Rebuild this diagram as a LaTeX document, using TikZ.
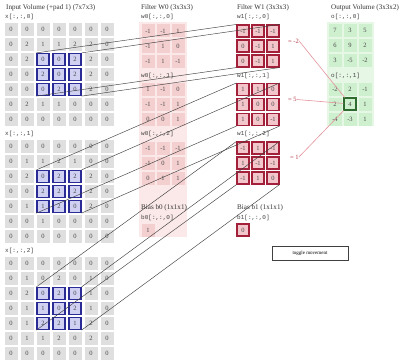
\documentclass[tikz,border=0pt]{standalone}
\usepackage{fontspec}
\setmainfont{Liberation Serif}
\setmonofont{Liberation Mono}
\definecolor{incell}{HTML}{DFDFDF}
\definecolor{winfill}{HTML}{D0D0F2}
\definecolor{winline}{HTML}{2B2B96}
\definecolor{wzcell}{HTML}{F4CFCF}
\definecolor{wzband}{HTML}{FBE8E8}
\definecolor{wocell}{HTML}{F3C6CB}
\definecolor{woline}{HTML}{A3203A}
\definecolor{outcell}{HTML}{CFF0CF}
\definecolor{outband}{HTML}{E6F7E6}
\definecolor{outline}{HTML}{2F6B2F}
\definecolor{eqcol}{HTML}{B23A48}
\definecolor{redline}{HTML}{E3939C}
\newcommand\mkinblock[2]{%
  \node[lbl] (xl#1) at (5,17+117*#1) {x[:,:,#1]};
  \foreach \i/\r in {#2} {
    \foreach \v [count=\jj from 0] in \r {
      \pgfmathtruncatemacro\w{(\i>1)*(\i<5)*(\jj>1)*(\jj<5)}
      \ifnum\w=1
        \node[wincellst] (in-#1-\i-\jj) at (11+16*\jj, 29.5+117*#1+15*\i) {\v};
      \else
        \node[incellst] (in-#1-\i-\jj) at (11+16*\jj, 29.5+117*#1+15*\i) {\v};
      \fi
    }
  }
}
\newcommand\mkwzblock[2]{%
  \node[lbl] (wzl#1) at (141,17+58.5*#1) {w0[:,:,#1]};
  \foreach \i/\r in {#2} {
    \foreach \v [count=\jj from 0] in \r {
      \node[wzcellst] (wz-#1-\i-\jj) at (148+15*\jj, 31+58.5*#1+15*\i) {\v};
    }
  }
}
\newcommand\mkwoblock[2]{%
  \node[lbl] (wol#1) at (237,17+58.5*#1) {w1[:,:,#1]};
  \foreach \i/\r in {#2} {
    \foreach \v [count=\jj from 0] in \r {
      \node[wocellst] (wo-#1-\i-\jj) at (243+15*\jj, 31+58.5*#1+15*\i) {\v};
    }
  }
}
\newcommand\mkoutblock[2]{%
  \node[lbl] (ol#1) at (331,17+58.5*#1) {o[:,:,#1]};
  \foreach \i/\r in {#2} {
    \foreach \v [count=\jj from 0] in \r {
      \pgfmathtruncatemacro\w{(#1==1)*(\i==1)*(\jj==1)}
      \ifnum\w=1
        \node[outhl] (oc-#1-\i-\jj) at (335+15*\jj, 30.5+58.5*#1+15*\i) {\v};
      \else
        \node[outcellst] (oc-#1-\i-\jj) at (335+15*\jj, 30.5+58.5*#1+15*\i) {\v};
      \fi
    }
  }
}
\begin{document}
\begin{tikzpicture}[x=1pt,y=-1pt,
  title/.style={anchor=west,inner sep=0,font=\fontsize{7.1}{8}\selectfont,text=black!80},
  lbl/.style={anchor=west,inner sep=0,font=\ttfamily\fontsize{6}{7}\selectfont,text=black!75},
  num/.style={inner sep=0,font=\fontsize{6.5}{7}\selectfont,text=black!72},
  incellst/.style={num,minimum size=13pt,fill=incell},
  wincellst/.style={num,minimum size=12pt,fill=winfill,draw=winline,line width=1.2pt},
  wzcellst/.style={num,minimum size=13pt,fill=wzcell},
  wocellst/.style={num,minimum size=12pt,fill=wocell,draw=woline,line width=1.1pt},
  outcellst/.style={num,minimum size=13pt,fill=outcell},
  outhl/.style={num,minimum size=12pt,fill=outcell,draw=outline,line width=1.1pt},
  conn/.style={black!75,line width=0.45pt},
  redconn/.style={redline,line width=0.6pt},
  eq/.style={anchor=west,inner sep=0,font=\fontsize{6.5}{7}\selectfont,text=eqcol},
]
\useasboundingbox (0,0) rectangle (406,361);
\fill[wzband] (139,22) rectangle (187,237);
\fill[outband] (327,22) rectangle (374,126);
% titles
\node[title] (tin) at (6,8) {Input Volume (+pad 1) (7x7x3)};
\node[title] (twz) at (141,8) {Filter W0 (3x3x3)};
\node[title] (two) at (237,8) {Filter W1 (3x3x3)};
\node[title] (tout) at (331,8) {Output Volume (3x3x2)};
% input volume
\mkinblock{0}{0/{0,0,0,0,0,0,0},1/{0,2,1,1,2,2,0},2/{0,2,0,0,2,2,0},3/{0,0,2,0,2,2,0},4/{0,0,0,2,0,2,0},5/{0,2,1,1,0,0,0},6/{0,0,0,0,0,0,0}}
\mkinblock{1}{0/{0,0,0,0,0,0,0},1/{0,1,1,2,1,0,0},2/{0,2,0,2,2,2,0},3/{0,0,2,2,2,2,0},4/{0,1,1,2,0,2,0},5/{0,0,1,0,0,0,0},6/{0,0,0,0,0,0,0}}
\mkinblock{2}{0/{0,0,0,0,0,0,0},1/{0,1,0,2,0,1,0},2/{0,2,0,2,0,1,0},3/{0,1,1,0,2,1,0},4/{0,1,2,2,1,2,0},5/{0,1,1,2,0,2,0},6/{0,0,0,0,0,0,0}}
% filter W0
\mkwzblock{0}{0/{-1,-1,1},1/{-1,1,0},2/{-1,1,-1}}
\mkwzblock{1}{0/{1,-1,0},1/{-1,-1,1},2/{0,0,1}}
\mkwzblock{2}{0/{-1,-1,-1},1/{-1,0,1},2/{0,1,1}}
\node[title] (bzt) at (141,208) {Bias b0 (1x1x1)};
\node[lbl] (bzl) at (141,218) {b0[:,:,0]};
\node[wzcellst] (bz) at (148,230) {1};
% filter W1
\mkwoblock{0}{0/{-1,-1,-1},1/{0,-1,1},2/{0,-1,1}}
\mkwoblock{1}{0/{1,1,0},1/{1,0,0},2/{1,0,-1}}
\mkwoblock{2}{0/{-1,1,-1},1/{1,-1,-1},2/{-1,1,0}}
\node[title] (bot) at (237,208) {Bias b1 (1x1x1)};
\node[lbl] (bol) at (237,218) {b1[:,:,0]};
\node[wocellst] (bo) at (243,230) {0};
% output
\mkoutblock{0}{0/{7,3,5},1/{6,9,2},2/{3,-5,-2}}
\mkoutblock{1}{0/{-2,2,-1},1/{2,4,1},2/{-4,-3,1}}
% partial results
\node[eq] (eq0) at (288,41) {= -2};
\node[eq] (eq1) at (288,99.5) {= 5};
\node[eq] (eq2) at (290,157) {= 1};
\draw[redconn] (eq0.east) -- (oc-1-1-1);
\draw[redconn] (eq1.east) -- (oc-1-1-1);
\draw[redconn] (eq2.east) -- (oc-1-1-1);
% connectors input window -> filter W1
\foreach \k in {0,1,2} {
  \draw[conn] (in-\k-2-2.north west) -- (wo-\k-0-0.north west);
  \draw[conn] (in-\k-2-4.north east) -- (wo-\k-0-2.north east);
  \draw[conn] (in-\k-4-2.south west) -- (wo-\k-2-0.south west);
  \draw[conn] (in-\k-4-4.south east) -- (wo-\k-2-2.south east);
}
% toggle button
\node[draw=black!75,line width=0.8pt,fill=white,minimum width=76pt,minimum height=14pt,inner sep=0,font=\fontsize{5}{6}\selectfont] (tog) at (310,253) {toggle movement};
\end{tikzpicture}
\end{document}
